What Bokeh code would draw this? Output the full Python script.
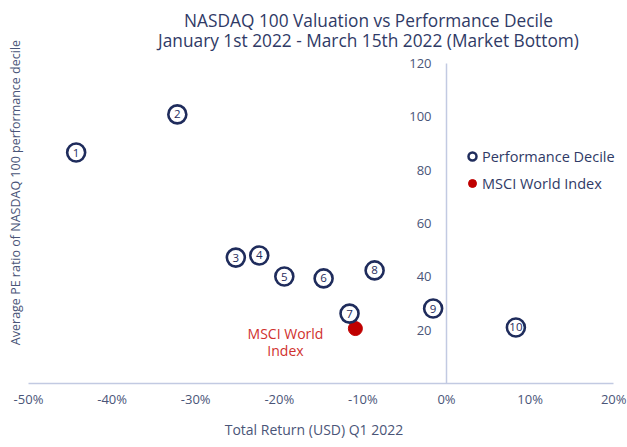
import math
from bokeh.plotting import figure
from bokeh.models import (Range1d, FixedTicker, NumeralTickFormatter, Label,
                          Legend, LegendItem, ColumnDataSource)
from bokeh.core.properties import value
from bokeh.embed import file_html
from bokeh.resources import INLINE

# ---- data ----
decile_labels = ["1", "2", "3", "4", "5", "6", "7", "8", "9", "10"]
decile_return = [-0.443, -0.322, -0.252, -0.224, -0.194, -0.147, -0.116, -0.086, -0.016, 0.083]
decile_pe = [86.6, 100.9, 47.2, 48.0, 40.1, 39.4, 26.2, 42.4, 28.1, 21.0]
msci_return = [-0.109]
msci_pe = [20.6]
x_ticks = [-0.5, -0.4, -0.3, -0.2, -0.1, 0.0, 0.1, 0.2]
y_ticks = [20, 40, 60, 80, 100, 120]
y_tick_labels = [str(v) for v in y_ticks]

FONT = "Open Sans"
NAVY = "#1f2c5c"
TXT = "#2f3a66"
LBL = "#4a5578"
AXC = "#c2cae2"
RED = "#c00000"

p = figure(width=627, height=447, output_backend="svg", toolbar_location=None,
           x_range=Range1d(-0.5335, 0.2165), y_range=Range1d(0, 143.6),
           y_axis_location=None, min_border_left=0, min_border_right=0,
           min_border_top=0, min_border_bottom=64)
p.outline_line_color = None
p.grid.visible = False
p.background_fill_color = "white"
p.border_fill_color = "white"

ax = p.xaxis[0]
ax.ticker = FixedTicker(ticks=x_ticks)
ax.bounds = (x_ticks[0], x_ticks[-1])
ax.formatter = NumeralTickFormatter(format="0%")
ax.major_tick_line_color = None
ax.minor_tick_line_color = None
ax.major_tick_out = 0
ax.major_tick_in = 0
ax.axis_line_color = AXC
ax.axis_line_width = 1.5
ax.major_label_text_font = FONT
ax.major_label_text_font_size = "13px"
ax.major_label_text_color = LBL
ax.major_label_standoff = 6
ax.axis_label = "Total Return (USD) Q1 2022"
ax.axis_label_text_font = FONT
ax.axis_label_text_font_size = "14px"
ax.axis_label_text_font_style = "normal"
ax.axis_label_text_color = LBL
ax.axis_label_standoff = 9

# vertical axis at x = 0
p.segment(x0=[0.0], y0=[0.0], x1=[0.0], y1=[y_ticks[-1]], line_color=AXC, line_width=1.5)
ysrc = ColumnDataSource(dict(x=[0.0] * len(y_ticks), y=y_ticks, t=y_tick_labels))
p.text(x="x", y="y", text="t", source=ysrc, x_offset=-15, text_align="right",
       text_baseline="middle", text_font=value(FONT), text_font_size="13px",
       text_color=LBL)

# MSCI point
p.scatter(msci_return, msci_pe, size=14, fill_color=RED, line_color=RED)

# decile rings
dsrc = ColumnDataSource(dict(x=decile_return, y=decile_pe, t=decile_labels))
p.scatter(x="x", y="y", source=dsrc, size=18, fill_color="white",
          line_color=NAVY, line_width=2.6)
p.text(x="x", y="y", text="t", source=dsrc, text_align="center",
       text_baseline="middle", text_font=value(FONT), text_font_size="11.5px",
       text_color=NAVY)

# legend (proxy renderers placed outside the visible range)
r1 = p.scatter([-9], [-9], size=8, fill_color="white", line_color=NAVY, line_width=2.5)
r2 = p.scatter([-9], [-9], size=8, fill_color=RED, line_color=RED)
leg = Legend(items=[LegendItem(label="Performance Decile", renderers=[r1]),
                    LegendItem(label="MSCI World Index", renderers=[r2])],
             location=(462, 190), padding=0, margin=0, spacing=7,
             glyph_width=20, glyph_height=20, label_height=20, label_standoff=-3,
             label_text_font=FONT, label_text_font_size="14.5px",
             label_text_color=TXT, border_line_color=None,
             background_fill_alpha=0)
p.add_layout(leg)

# MSCI label
for txt, yy in [("MSCI World", 18.7), ("Index", 12.4)]:
    p.add_layout(Label(x=-0.1926, y=yy, text=txt, text_align="center",
                       text_baseline="middle", text_font=FONT,
                       text_font_size="14px", text_color="#d0312d"))

# title
for txt, yy in [("NASDAQ 100 Valuation vs Performance Decile", 136.1),
                ("January 1st 2022 - March 15th 2022 (Market Bottom)", 128.6)]:
    p.add_layout(Label(x=-0.0933, y=yy, text=txt, text_align="center",
                       text_baseline="middle", text_font=FONT,
                       text_font_size="17.3px", text_color=TXT))

# y axis title
p.add_layout(Label(x=-0.5155, y=71.6,
                   text="Average PE ratio of NASDAQ 100 performance decile",
                   angle=math.pi / 2, text_align="center", text_baseline="middle",
                   text_font=FONT, text_font_size="12.5px", text_color=LBL))

open("out.html", "w").write(file_html(p, INLINE))
